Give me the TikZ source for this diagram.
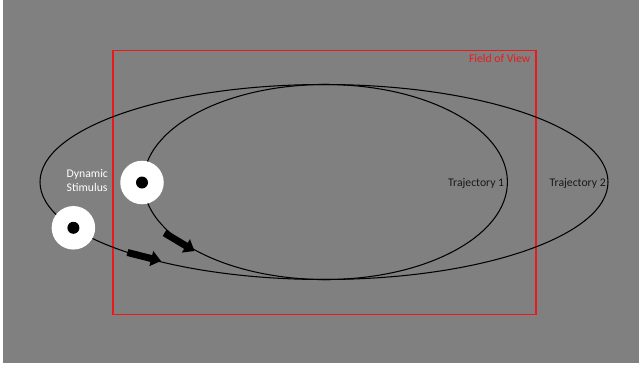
\documentclass[tikz,border=0pt]{standalone}
\usepackage{fontspec}
\setmainfont{Carlito}
\usetikzlibrary{shapes.geometric,arrows.meta}
\definecolor{bggray}{RGB}{128,128,128}
\definecolor{fovred}{RGB}{235,25,25}
\definecolor{darktext}{RGB}{25,25,25}
\tikzset{
  traj/.style={draw=black, line width=1.05pt, ellipse, inner sep=0pt, minimum height=195pt},
  ringout/.style={circle, fill=white, minimum size=43.5pt, inner sep=0pt},
  ringdot/.style={circle, fill=black, minimum size=12pt, inner sep=0pt},
  lab/.style={inner sep=0pt, font=\fontsize{11.7pt}{14.4pt}\selectfont},
  motion/.style={line width=7pt, black, -{Triangle[width=15pt,length=10pt]}}
}
\begin{document}
\begin{tikzpicture}[x=1pt,y=-1pt]
\useasboundingbox (0,0) rectangle (639,364);
\fill[white] (0,0) rectangle (639,364);
\fill[bggray] (3,0) rectangle (639,362.5);
% field of view
\node[draw=fovred, line width=1.4pt, rectangle, inner sep=0pt, minimum width=423pt, minimum height=264pt] (fov) at (324.5,182.3) {};
% trajectories
\node[traj, minimum width=568pt] (traj2) at (324,182) {};
\node[traj, minimum width=364pt] (traj1) at (325.4,182) {};
% stimuli
\node[ringout] (stimA) at (142,182.5) {};
\node[ringdot] (dotA) at (stimA.center) {};
\node[ringout] (stimB) at (73.4,227.8) {};
\node[ringdot] (dotB) at (stimB.center) {};
% motion arrows
\coordinate (m1s) at (127.5,252.5);
\coordinate (m1e) at (161,261);
\coordinate (m2s) at (164.5,233);
\coordinate (m2e) at (194.5,251);
\draw[motion] (m1s) -- (m1e);
\draw[motion] (m2s) -- (m2e);
% labels
\node[lab, text=fovred, anchor=base east] (fovlab) at (530.5,62) {Field of View};
\node[lab, text=darktext, anchor=base west] (t1lab) at (448,186.5) {Trajectory 1};
\node[lab, text=darktext, anchor=base west] (t2lab) at (549.5,186.5) {Trajectory 2};
\node[lab, text=white, align=left, anchor=base west] (stimlab) at (66.5,191.7) {Dynamic\\Stimulus};
\end{tikzpicture}
\end{document}
